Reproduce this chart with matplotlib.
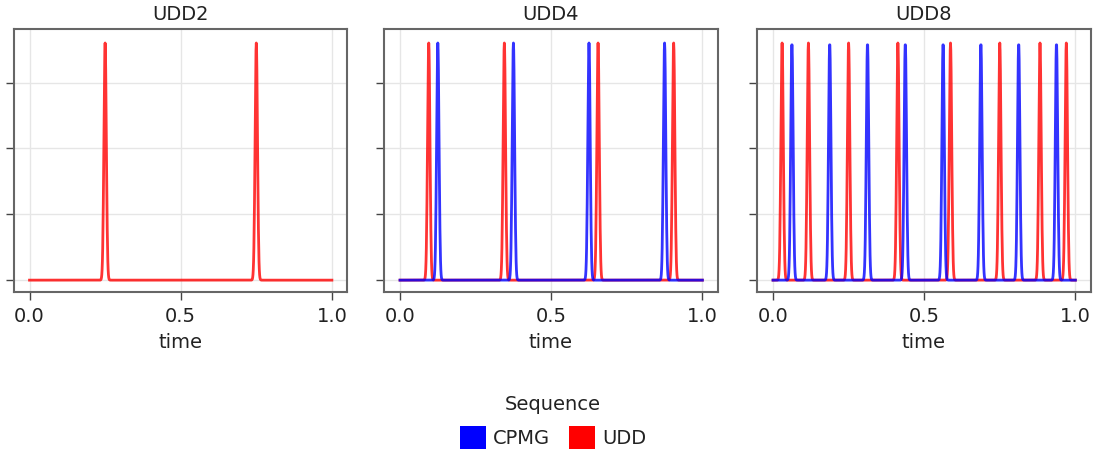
import numpy as np
import matplotlib
matplotlib.use("Agg")
import matplotlib.pyplot as plt
from matplotlib.patches import Patch

# pulse positions (fraction of total time) for each panel
panel_titles = ["UDD2", "UDD4", "UDD8"]
udd_times = [
    [0.250, 0.750],
    [0.095, 0.345, 0.655, 0.905],
    [0.030, 0.117, 0.250, 0.413, 0.587, 0.750, 0.883, 0.970],
]
cpmg_times = [
    [],
    [0.125, 0.375, 0.625, 0.875],
    [0.0625, 0.1875, 0.3125, 0.4375, 0.5625, 0.6875, 0.8125, 0.9375],
]
pulse_height = 3.6
seq_colors = {"CPMG": "#0000ff", "UDD": "#ff0000"}

t = np.linspace(0, 1, 1001)
sigma = 0.004


def pulse_train(times):
    y = np.zeros_like(t)
    for tp in times:
        y += pulse_height * np.exp(-0.5 * ((t - tp) / sigma) ** 2)
    return y


fig = plt.figure(figsize=(10.97, 4.54), dpi=100)
lefts = [13.5, 384, 757]
width = 333.5
for i, title in enumerate(panel_titles):
    ax = fig.add_axes([lefts[i] / 1097, 1 - 292 / 454, width / 1097, (292 - 28.5) / 454])
    ax.plot(t, pulse_train(udd_times[i]), color=seq_colors["UDD"], lw=2, alpha=0.8)
    if cpmg_times[i]:
        ax.plot(t, pulse_train(cpmg_times[i]), color=seq_colors["CPMG"], lw=2, alpha=0.8)
    ax.set_xlim(-0.053, 1.05)
    ax.set_ylim(-0.18, 3.82)
    ax.set_xticks([0, 0.5, 1.0])
    ax.set_xticklabels(["0.0", "0.5", "1.0"], fontsize=14, color="#222222")
    ax.set_yticks([0, 1, 2, 3])
    ax.set_yticklabels([])
    ax.tick_params(length=6, width=1, color="#444444", pad=5)
    ax.grid(True, color="#e6e6e6", lw=1)
    ax.set_axisbelow(True)
    for s in ax.spines.values():
        s.set_color("#666666")
        s.set_linewidth(1.5)
    ax.set_title(title, fontsize=14, color="#222222", pad=6)
    ax.set_xlabel("time", fontsize=14, color="#222222", labelpad=5)

handles = [Patch(facecolor=seq_colors["CPMG"], label="CPMG"),
           Patch(facecolor=seq_colors["UDD"], label="UDD")]
leg = fig.legend(handles=handles, title="Sequence", loc="center", bbox_to_anchor=(553 / 1097, 1 - 422 / 454),
                 ncol=2, frameon=False, fontsize=14, title_fontsize=14,
                 handlelength=1.35, handleheight=1.4, columnspacing=1.0, handletextpad=0.35,
                 labelspacing=0.6)
for txt in leg.get_texts():
    txt.set_color("#222222")
leg.get_title().set_color("#222222")

fig.savefig("out.png", dpi=100)
